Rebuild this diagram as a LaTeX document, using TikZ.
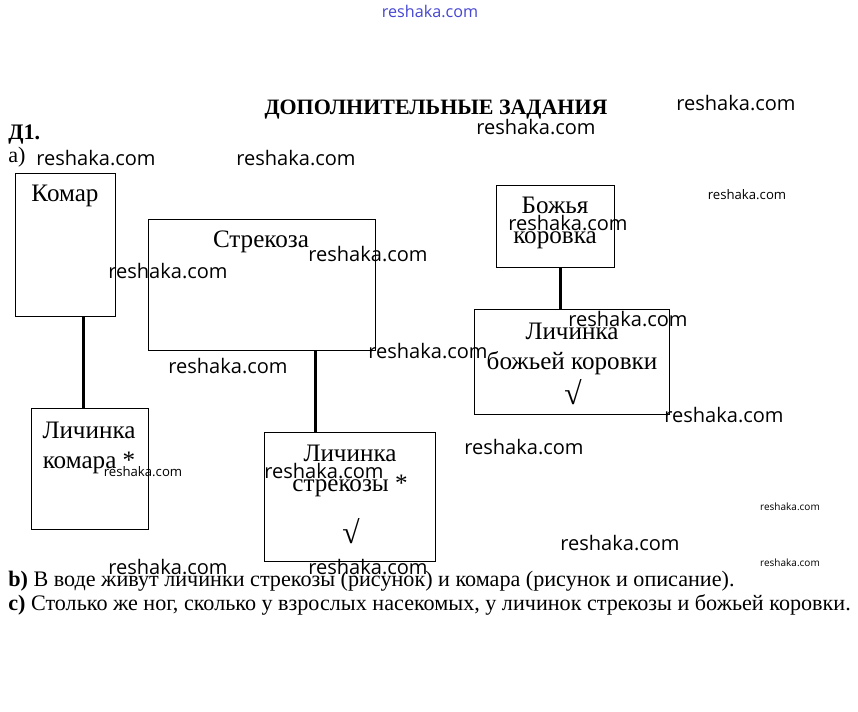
\documentclass[tikz,border=0pt]{standalone}
\usepackage{fontspec}
\setmainfont{Liberation Serif}
\newfontfamily\wmfont{Open Sans}
\usepackage{xcolor}
\usepackage{tikz}
\usetikzlibrary{shapes,arrows,positioning}

\definecolor{wmblue}{RGB}{70,70,210}

\begin{document}
\begin{tikzpicture}[
        x=0.02cm, y=-0.02cm,
        box/.style={draw, line width=0.6pt, inner sep=0pt, anchor=north west},
        link/.style={line width=1.7pt},
        lbl/.style={inner sep=0pt, anchor=north, align=center,
            font=\fontsize{14.3}{17}\selectfont},
        txt/.style={inner sep=0pt, anchor=base west,
            font=\fontsize{12.6}{15}\selectfont},
        tick/.style={inner sep=0pt, font=\fontsize{18}{18}\selectfont},
        wm/.style={inner sep=0pt, font=\wmfont\fontsize{11.4}{12}\selectfont},
        wmsmall/.style={inner sep=0pt, font=\wmfont\fontsize{7.5}{8}\selectfont}
    ]
                \useasboundingbox[fill=white] (0,0) rectangle (858,712);

                \node[box, minimum width=2cm, minimum height=2.86cm] (komar) at (15,173) {};
                \node[box, minimum width=4.54cm, minimum height=2.62cm] (strekoza) at (148,219) {};
                \node[box, minimum width=2.36cm, minimum height=1.64cm] (bozhya) at (496,185) {};
                \node[box, minimum width=3.9cm, minimum height=2.1cm] (lbozhya) at (474,309) {};
                \node[box, minimum width=2.34cm, minimum height=2.42cm] (lkomar) at (31,408) {};
                \node[box, minimum width=3.42cm, minimum height=2.58cm] (lstrekoza) at (264,432) {};

                \node[lbl] (tkomar) at (65,185) {Комар};
                \node[lbl] (tstrekoza) at (261,231) {Стрекоза};
                \node[lbl] (tbozhya) at (555,197) {Божья\\коровка};
                \node[lbl] (tlbozhya) at (572,323) {Личинка\\божьей коровки};
                \node[lbl] (tlkomar) at (89,422) {Личинка\\комара *};
                \node[lbl] (tlstrekoza) at (350,445) {Личинка\\стрекозы *};
                \node[tick] (vbozhya) at (573,392) {√};
                \node[tick] (vstrekoza) at (351,531) {√};

                \draw[link] ([xshift=0.36cm]komar.south) -- ([xshift=0.36cm]komar.south |- lkomar.north);
                \draw[link] ([xshift=1.07cm]strekoza.south) -- ([xshift=1.07cm]strekoza.south |- lstrekoza.north);
                \draw[link] ([xshift=0.1cm]bozhya.south) -- ([xshift=0.1cm]bozhya.south |- lbozhya.north);

                \node[txt, anchor=base] (title) at (436,115) {\fontsize{12.5}{14}\selectfont\textbf{ДОПОЛНИТЕЛЬНЫЕ ЗАДАНИЯ}};
                \node[txt] (d1) at (8,140) {\textbf{Д1.}};
                \node[txt] (pa) at (8,163) {а)};
                \node[txt] (pb) at (8,586) {\textbf{b)} В воде живут личинки стрекозы (рисунок) и комара (рисунок и описание).};
                \node[txt] (pc) at (8,610) {\textbf{c)} Столько же ног, сколько у взрослых насекомых, у личинок стрекозы и божьей коровки.};

                \node[wm, font=\wmfont\fontsize{9.2}{10}\selectfont, text=wmblue] (wm0) at (430,11) {reshaka.com};
                \foreach \wx/\wy [count=\i] in {736/103, 536/127, 96/158, 296/158, 168/271, 368/254,
                    568/223, 628/319, 428/351, 228/366, 724/415, 524/447, 324/471,
                    620/543, 168/567, 368/567}
                    \node[wm] (wm\i) at (\wx,\wy) {reshaka.com};
                \node[wmsmall] (wms1) at (747,195) {reshaka.com};
                \node[wmsmall] (wms2) at (143,472) {reshaka.com};
                \node[wmsmall, font=\wmfont\fontsize{5.7}{6}\selectfont] (wms3) at (790,507) {reshaka.com};
                \node[wmsmall, font=\wmfont\fontsize{5.7}{6}\selectfont] (wms4) at (790,563) {reshaka.com};

\end{tikzpicture}
\end{document}
